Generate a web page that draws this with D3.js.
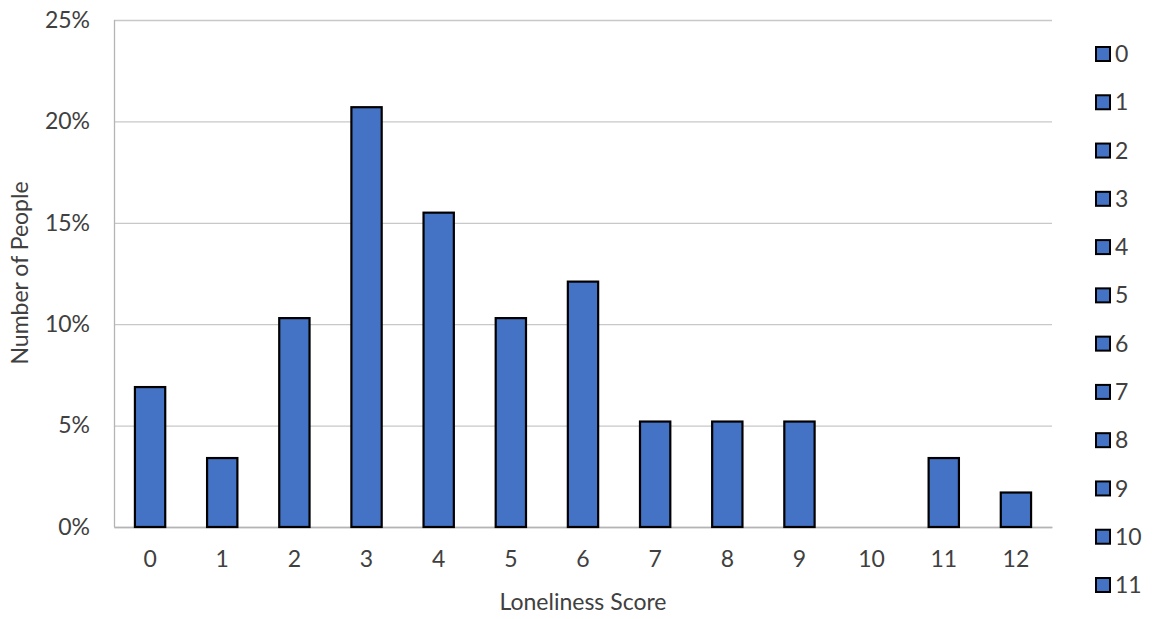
<!DOCTYPE html>
<html><head><meta charset="utf-8">
<script src="https://cdn.jsdelivr.net/npm/d3@7"></script>
<style>body{margin:0;background:#fff;} text{font-family:Lato,"Open Sans",sans-serif;fill:#404040;}</style>
</head><body>
<svg id="chart" width="1154" height="619"></svg>
<script>
const categories = ["0","1","2","3","4","5","6","7","8","9","10","11","12"];
const values = [6.9, 3.4, 10.3, 20.7, 15.5, 10.3, 12.1, 5.2, 5.2, 5.2, 0, 3.4, 1.7];
const yTicks = [0, 5, 10, 15, 20, 25];
const legendLabels = ["0","1","2","3","4","5","6","7","8","9","10","11"];

const FS = "23px";
const svg = d3.select("#chart");
const m = {left:114, right:1052, top:20, bottom:527};
const x = d3.scaleBand().domain(categories).range([m.left, m.right]).paddingInner(0.58).paddingOuter(0.29);
const y = d3.scaleLinear().domain([0,25]).range([m.bottom, m.top]);

// gridlines
svg.append("g").selectAll("line").data(yTicks).join("line")
  .attr("x1", m.left).attr("x2", m.right)
  .attr("y1", d=>y(d)+0.5).attr("y2", d=>y(d)+0.5)
  .attr("stroke", "#c8c8c8").attr("stroke-width", 1.3);
// left axis line
svg.append("line").attr("x1", m.left+0.5).attr("x2", m.left+0.5).attr("y1", m.top).attr("y2", m.bottom)
  .attr("stroke", "#b4b4b4").attr("stroke-width", 1.3);

// y tick labels
const yAxis = d3.axisLeft(y).tickValues(yTicks).tickFormat(d=>d+"%").tickSize(0).tickPadding(24);
const ga = svg.append("g").attr("transform", `translate(${m.left},0)`).call(yAxis);
ga.select(".domain").remove();
ga.selectAll("text").style("font-size",FS).style("font-family","Lato, sans-serif").attr("fill","#404040");

// x labels
const xAxis = d3.axisBottom(x).tickSize(0).tickPadding(24);
const gx = svg.append("g").attr("transform", `translate(0,${m.bottom})`).call(xAxis);
gx.select(".domain").attr("stroke","#b4b4b4").attr("stroke-width",1.3);
gx.selectAll("text").style("font-size",FS).style("font-family","Lato, sans-serif").attr("fill","#404040");

// bars
const barData = values.map((v,i)=>({c:categories[i], v}));
svg.append("g").selectAll("rect").data(barData.filter(d=>d.v>0)).join("rect")
  .attr("x", d=>x(d.c)).attr("width", x.bandwidth())
  .attr("y", d=>y(d.v)).attr("height", d=>y(0)-y(d.v))
  .attr("fill", "#4472C4").attr("stroke", "#000").attr("stroke-width", 2.2);

// axis titles
svg.append("text").attr("x", 583).attr("y", 610).attr("text-anchor","middle")
  .style("font-size",FS).text("Loneliness Score");
svg.append("text").attr("transform","translate(28,273) rotate(-90)").attr("text-anchor","middle")
  .style("font-size",FS).text("Number of People");

// legend
const ly = d3.scalePoint().domain(legendLabels).range([54, 585]);
const lg = svg.append("g").selectAll("g").data(legendLabels).join("g")
  .attr("transform", d=>`translate(1096,${ly(d)})`);
lg.append("rect").attr("x",0).attr("y",-7).attr("width",14).attr("height",14)
  .attr("fill","#4472C4").attr("stroke","#000").attr("stroke-width",2);
lg.append("text").attr("x",19).attr("y",0).attr("dy","0.35em").style("font-size",FS).text(d=>d);
</script>
</body></html>
